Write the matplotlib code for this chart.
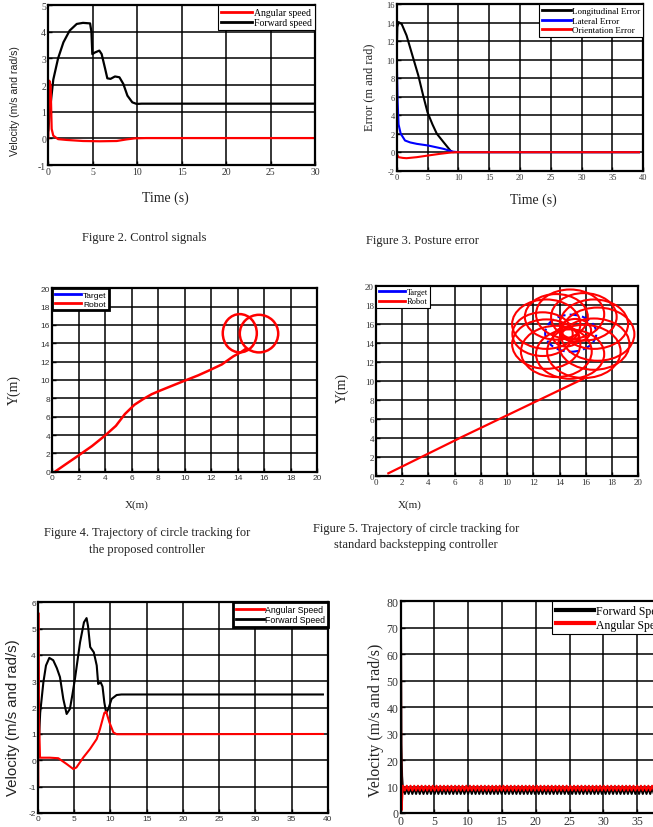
import numpy as np
import matplotlib
matplotlib.use('Agg')
import matplotlib.pyplot as plt
from matplotlib.patches import Ellipse, Circle
from matplotlib.lines import Line2D

plt.rcParams['axes.unicode_minus'] = False

W, H = 653, 828
SERIF = 'Liberation Serif'
SANS = 'Liberation Sans'

## Figure 2 - control signals
f2_t_fwd = [0, 0.2, 0.56, 1.1, 1.7, 2.4, 3.2, 3.9, 4.7, 4.85, 4.95, 5.25, 5.74, 6.0, 6.4, 6.64, 7.0, 7.5, 8.0, 8.44, 8.9, 9.45, 9.94, 10.5, 30]
f2_v_fwd = [0.3, 1.1, 2.2, 3.0, 3.6, 4.04, 4.29, 4.33, 4.31, 4.0, 3.16, 3.22, 3.29, 3.16, 2.6, 2.25, 2.23, 2.32, 2.29, 2.04, 1.6, 1.35, 1.29, 1.3, 1.3]
f2_t_ang = [0, 0.11, 0.26, 0.38, 0.56, 1.1, 2.06, 3.9, 5.8, 7.7, 8.8, 9.75, 11, 30]
f2_v_ang = [0, 2.16, 1.98, 0.35, 0.1, -0.03, -0.06, -0.1, -0.11, -0.1, -0.04, 0.0, 0.01, 0.01]

## Figure 3 - posture error
f3_t_lon = [0, 0.1, 0.3, 0.8, 1.6, 2.7, 3.5, 4.3, 5.0, 5.8, 6.5, 7.6, 8.7, 9.1, 10, 39.3]
f3_e_lon = [10.3, 13.5, 14.05, 13.85, 12.6, 10.1, 8.3, 6.1, 4.3, 3.0, 2.0, 1.08, 0.18, 0.0, 0.0, 0.0]
f3_t_lat = [0, 0.15, 0.3, 0.65, 1.35, 2.2, 3.25, 5.1, 7.6, 9.0, 10, 39.3]
f3_e_lat = [10.5, 5.5, 3.0, 2.0, 1.26, 1.05, 0.9, 0.72, 0.36, 0.07, 0.0, 0.0]
f3_t_ori = [0, 0.1, 0.3, 1.0, 1.6, 3.25, 5.4, 7.0, 8.5, 9.5, 39.3]
f3_e_ori = [0, -0.3, -0.54, -0.62, -0.65, -0.54, -0.33, -0.18, -0.06, 0.0, 0.0]

## Figure 4 - proposed controller trajectory
f4_x = [0.2, 1.0, 1.96, 3.0, 3.97, 4.8, 5.48, 6.2, 6.87, 7.5, 8.13, 9.0, 10.0, 11.0, 11.77, 12.8, 13.66, 14.2, 14.6]
f4_y = [0.0, 0.8, 1.75, 2.8, 3.93, 5.0, 6.29, 7.3, 7.93, 8.45, 8.84, 9.35, 9.93, 10.5, 11.0, 11.7, 12.58, 13.0, 13.4]
f4_loop_cx = [14.15, 15.6]
f4_loop_cy = [15.1, 15.06]
f4_loop_w = [2.57, 2.9]
f4_loop_h = [4.17, 4.1]

## Figure 5 - standard backstepping trajectory
f5_x = [0.94, 6.66, 15.8]
f5_y = [0.25, 4.15, 10.2]
f5_target = (14.85, 15.0, 1.95)
f5_loop_cx = [16.9, 16.62, 15.85, 14.8, 13.75, 12.98, 12.7, 12.98, 13.75, 14.8, 15.85, 16.62, 15.2, 14.5]
f5_loop_cy = [14.9, 15.95, 16.72, 17.0, 16.72, 15.95, 14.9, 13.85, 13.08, 12.8, 13.08, 13.85, 15.3, 14.6]
f5_loop_r = [2.8, 2.6, 2.5, 2.6, 2.4, 2.6, 2.3, 2.6, 2.7, 2.6, 2.8, 2.7, 1.2, 1.0]

## Figure 6
f6_t_fwd = [0, 0.3, 0.74, 1.1, 1.56, 2.1, 2.6, 3.03, 3.49, 3.95, 4.4, 4.75, 5.1, 5.8, 6.34, 6.7, 6.9, 7.2, 7.7, 8.1, 8.3, 8.65, 8.9, 9.15, 9.4, 9.7, 10.15, 10.85, 11.5, 39.3]
f6_v_fwd = [0, 1.8, 2.96, 3.6, 3.89, 3.8, 3.5, 3.16, 2.33, 1.76, 1.95, 2.5, 3.1, 4.48, 5.24, 5.4, 5.1, 4.3, 4.1, 3.6, 2.9, 2.96, 2.8, 2.2, 1.8, 1.95, 2.33, 2.48, 2.5, 2.5]
f6_t_ang = [0, 0.02, 0.05, 0.1, 0.28, 0.8, 1.65, 2.8, 3.95, 4.87, 5.3, 6.25, 7.17, 8.1, 8.55, 9.15, 9.4, 9.85, 10.4, 10.85, 39.3]
f6_v_ang = [0, -1.0, 5.6, 2.0, 0.1, 0.1, 0.1, 0.08, -0.14, -0.33, -0.27, 0.11, 0.43, 0.81, 1.19, 1.8, 1.85, 1.44, 1.06, 0.99, 1.0]

## Figure 7
f7_t_fwd_start = [0, 0.02, 0.1, 0.2, 0.35]
f7_v_fwd_start = [0, 80, 26, 14, 8]
f7_t_ang_start = [0, 0.04, 0.08, 0.12, 0.3]
f7_v_ang_start = [0, 66, 2, 1, 9.5]
f7_tooth_half = 0.275
f7_fwd_tooth = [9.5, 7.2]
f7_ang_tooth = [10.3, 8.5]
f7_t_end = 39.3

fig = plt.figure(figsize=(W / 100, H / 100), dpi=100)


def add_ax(l, t, r, b):
    return fig.add_axes([l / W, 1 - b / H, (r - l) / W, (b - t) / H])


def txt(x, y, s, size, family=SERIF, rot=0, **kw):
    fig.text(x / W, 1 - y / H, s, fontsize=size, family=family, rotation=rot,
             ha='center', va='center', color='#222222', **kw)


def style(ax, xlim, ylim, xstep, ystep, fam, fs):
    ax.set_xlim(*xlim)
    ax.set_ylim(*ylim)
    ax.set_xticks(np.arange(xlim[0], xlim[1] + 0.01, xstep))
    ax.set_yticks(np.arange(ylim[0], ylim[1] + 0.01, ystep))
    ax.grid(True, color='black', lw=1.1)
    ax.set_axisbelow(True)
    for s in ax.spines.values():
        s.set_linewidth(1.6)
    ax.tick_params(direction='in', length=3, width=1, pad=1.5, labelsize=fs, colors='black',
                   labelcolor='#333333')
    for lab in ax.get_xticklabels() + ax.get_yticklabels():
        lab.set_family(fam)


def legend(ax, handles, labels, fam, fs, loc, lw=0.8, **kw):
    lg = ax.legend(handles, labels, loc=loc, fancybox=False, framealpha=1,
                   edgecolor='black', prop={'family': fam, 'size': fs},
                   borderpad=0.3, labelspacing=0.15, handlelength=3.2, handletextpad=0.2,
                   borderaxespad=0.0, **kw)
    lg.get_frame().set_linewidth(lw)
    return lg


# Figure 2
ax = add_ax(48.3, 6, 315, 166)
ax.plot(f2_t_fwd, f2_v_fwd, color='black', lw=1.6)
ax.plot(f2_t_ang, f2_v_ang, color='red', lw=1.6)
style(ax, (0, 30), (-1, 5), 5, 1, SERIF, 7)
legend(ax, [Line2D([], [], color='red', lw=2), Line2D([], [], color='black', lw=2)],
       ['Angular speed', 'Forward speed'], SERIF, 7, 'upper right')
txt(15, 101, 'Velocity (m/s and rad/s)', 7.6, SANS, 90)
txt(165, 198, 'Time (s)', 10)
txt(144, 238, 'Figure 2. Control signals', 9)

# Figure 3
ax = add_ax(396.7, 5, 643.3, 171.7)
ax.plot(f3_t_lon, f3_e_lon, color='black', lw=1.5)
ax.plot(f3_t_lat, f3_e_lat, color='blue', lw=1.5)
ax.plot(f3_t_ori, f3_e_ori, color='red', lw=1.5)
style(ax, (0, 40), (-2, 16), 5, 2, SERIF, 6)
legend(ax, [Line2D([], [], color=c, lw=2) for c in ['black', 'blue', 'red']],
       ['Longitudinal Error', 'Lateral Error', 'Orientation Error'], SERIF, 6.5, 'upper right')
txt(369, 87, 'Error (m and rad)', 9, SERIF, 90)
txt(533, 200, 'Time (s)', 10)
txt(422, 241, 'Figure 3. Posture error', 9)

# Figure 4
ax = add_ax(52.3, 289.3, 317.3, 472.7)
ax.plot(f4_x, f4_y, color='red', lw=1.8)
for cx, cy, w, h in zip(f4_loop_cx, f4_loop_cy, f4_loop_w, f4_loop_h):
    ax.add_patch(Ellipse((cx, cy), w, h, fill=False, ec='red', lw=1.8))
style(ax, (0, 20), (0, 20), 2, 2, SANS, 6)
legend(ax, [Line2D([], [], color='blue', lw=2), Line2D([], [], color='red', lw=2)],
       ['Target', 'Robot'], SANS, 6, 'upper left', lw=2)
txt(14, 390, 'Y(m)', 10, SERIF, 90)
txt(137, 505, 'X(m)', 8)
txt(147, 533, 'Figure 4. Trajectory of circle tracking for', 9)
txt(147, 550, 'the proposed controller', 9)

# Figure 5
ax = add_ax(376, 286.7, 638.3, 476.7)
ax.plot(f5_x, f5_y, color='red', lw=1.6)
tx, ty, tr = f5_target
ax.add_patch(Circle((tx, ty), tr, fill=False, ec='blue', lw=1.5, ls=(0, (4, 2))))
for cx, cy, r in zip(f5_loop_cx, f5_loop_cy, f5_loop_r):
    ax.add_patch(Circle((cx, cy), r, fill=False, ec='red', lw=1.5))
style(ax, (0, 20), (0, 20), 2, 2, SERIF, 6.5)
legend(ax, [Line2D([], [], color='blue', lw=2), Line2D([], [], color='red', lw=2)],
       ['Target', 'Robot'], SERIF, 6, 'upper left')
txt(342, 388, 'Y(m)', 10, SERIF, 90)
txt(410, 505, 'X(m)', 8)
txt(416, 529, 'Figure 5. Trajectory of circle tracking for', 9)
txt(416, 545, 'standard backstepping controller', 9)

# Figure 6
ax = add_ax(38, 603.3, 328, 814)
ax.plot(f6_t_fwd, f6_v_fwd, color='black', lw=1.5)
ax.plot(f6_t_ang, f6_v_ang, color='red', lw=1.5)
style(ax, (0, 40), (-2, 6), 5, 1, SANS, 6)
legend(ax, [Line2D([], [], color='red', lw=2), Line2D([], [], color='black', lw=2)],
       ['Angular Speed', 'Forward Speed'], SANS, 6.3, 'upper right', lw=2)
txt(13, 718, 'Velocity (m/s and rad/s)', 10.8, SANS, 90)

# Figure 7 (cropped at the right edge of the page, as in the source)
ax = add_ax(400.7, 602.3, 671, 814)
n_teeth = int((f7_t_end - 0.35) / f7_tooth_half)
t_teeth = 0.35 + f7_tooth_half * np.arange(n_teeth)
ax.plot(np.r_[f7_t_fwd_start, t_teeth], np.r_[f7_v_fwd_start, np.resize(f7_fwd_tooth, n_teeth)],
        color='black', lw=1.5)
ax.plot(np.r_[f7_t_ang_start, t_teeth], np.r_[f7_v_ang_start, np.resize(f7_ang_tooth, n_teeth)],
        color='red', lw=1.5)
style(ax, (0, 40), (0, 80), 5, 10, SERIF, 8.5)
ax.set_xticklabels(['0', '5', '10', '15', '20', '25', '30', '35', ''])
legend(ax, [Line2D([], [], color='black', lw=3), Line2D([], [], color='red', lw=3)],
       ['Forward Speed', 'Angular Speed'], SERIF, 8.5, 'upper right')
txt(376, 720, 'Velocity (m/s and rad/s)', 11.5, SERIF, 90)

fig.savefig('out.png', dpi=100)
